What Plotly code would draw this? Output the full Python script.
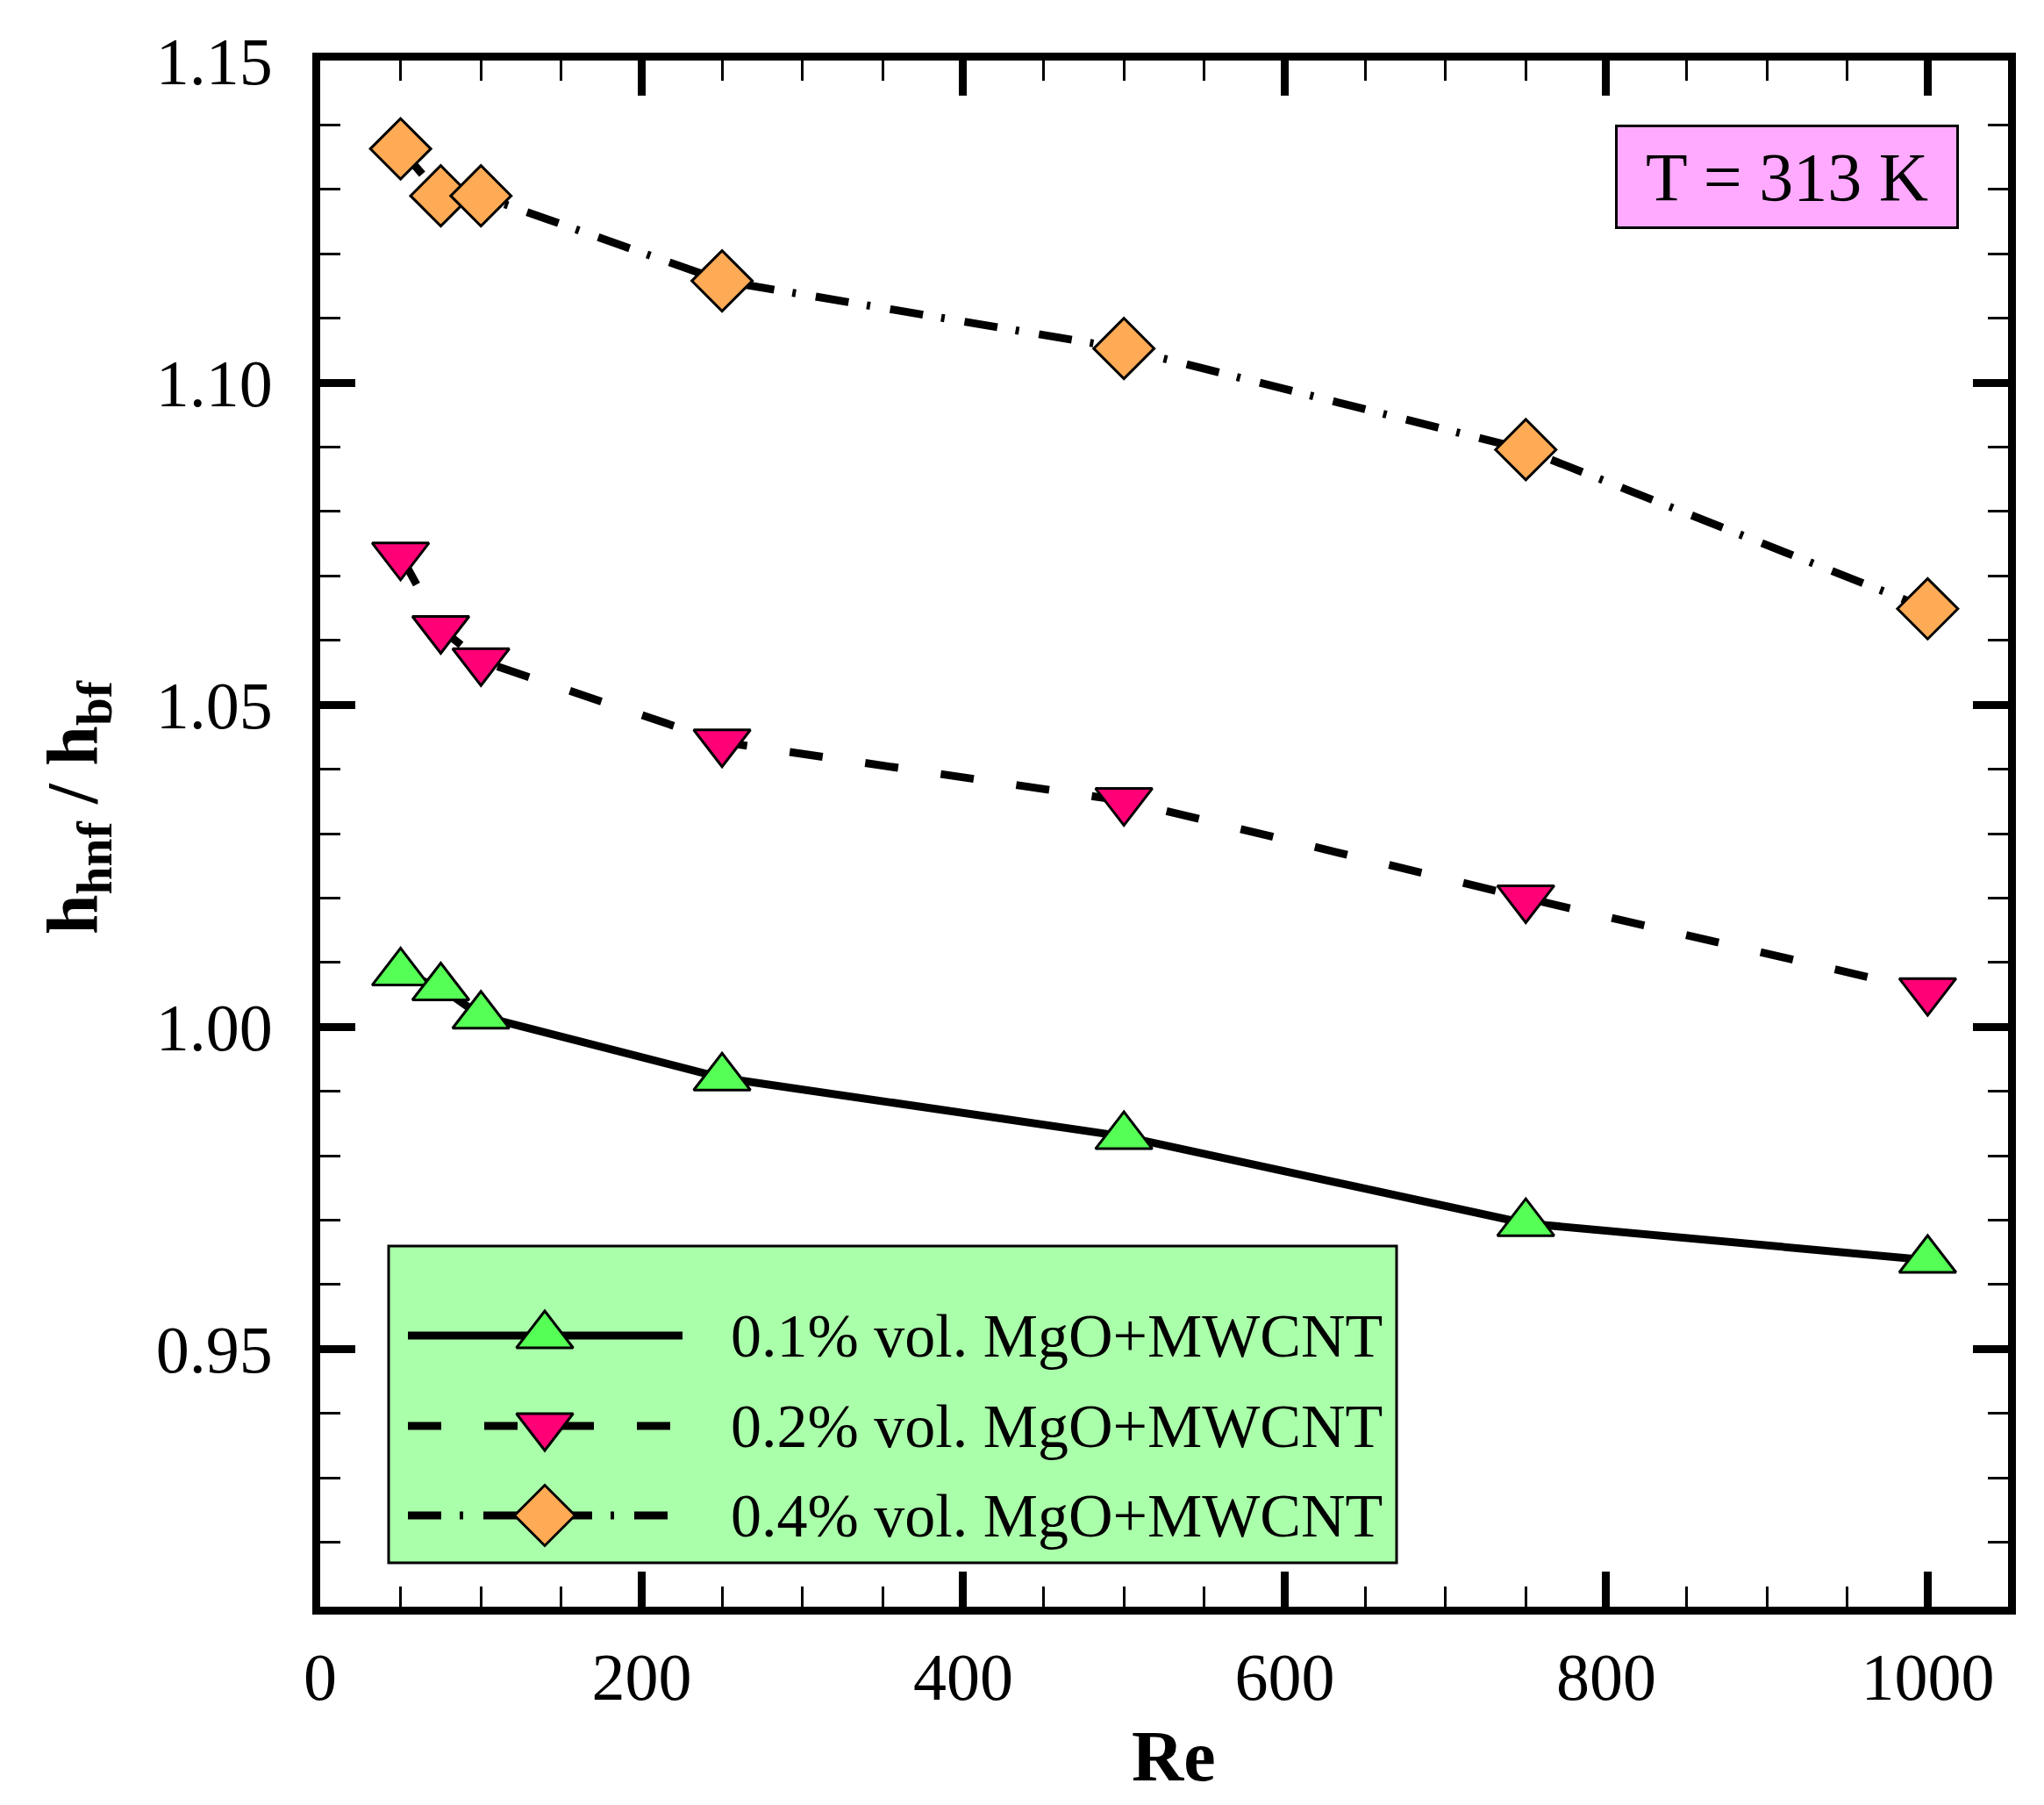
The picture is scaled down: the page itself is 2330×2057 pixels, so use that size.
import plotly.graph_objects as go

# ---------------- data ----------------
re_vals = [50, 75, 100, 250, 500, 750, 1000]
h_ratio_01 = [1.0084, 1.0061, 1.0017, 0.9921, 0.9830, 0.9695, 0.9638]
h_ratio_02 = [1.0732, 1.0618, 1.0568, 1.0442, 1.0351, 1.0200, 1.0056]
h_ratio_04 = [1.1363, 1.1290, 1.1290, 1.1158, 1.1053, 1.0896, 1.0649]
series_names = ["0.1% vol. MgO+MWCNT", "0.2% vol. MgO+MWCNT", "0.4% vol. MgO+MWCNT"]
x_tick_vals = [0, 200, 400, 600, 800, 1000]
y_tick_vals = [0.95, 1.00, 1.05, 1.10, 1.15]
annot_text = "T = 313 K"
x_title = "<b>Re</b>"
y_title = "<b>h<sub>hnf</sub> / h<sub>bf</sub></b>"

# ---------------- styles ----------------
FONT = "Liberation Serif, Times New Roman, serif"
W, H = 2330, 2057
ML, MR, MT, MB = 357, 49, 61, 234

styles = [
    dict(symbol="triangle-up", color="#55FF55", dash="solid", size=56),
    dict(symbol="triangle-down", color="#FF0077", dash="38px,49px", size=56),
    dict(symbol="diamond", color="#FFAA55", dash="38px,21px,4px,23px", size=53),
]
series = [h_ratio_01, h_ratio_02, h_ratio_04]

fig = go.Figure()
for name, yv, st in zip(series_names, series, styles):
    fig.add_trace(go.Scatter(
        x=re_vals, y=yv, name=name, mode="lines+markers",
        line=dict(color="black", width=9, dash=st["dash"]),
        marker=dict(symbol=st["symbol"], size=st["size"], color=st["color"],
                    line=dict(color="black", width=3)),
        showlegend=False,
    ))

# ---------------- manual legend (own hidden axes) ----------------
leg_px = dict(x0=435, x1=1584, y0=1412, y1=1773)  # pixel box
pw, ph = W - ML - MR, H - MT - MB
lx0 = (leg_px["x0"] - ML) / pw
lx1 = (leg_px["x1"] - ML) / pw
ly1 = (H - MB - leg_px["y0"]) / ph
ly0 = (H - MB - leg_px["y1"]) / ph
lw = leg_px["x1"] - leg_px["x0"]
lh = leg_px["y1"] - leg_px["y0"]
row_y = [259, 156, 54]
for name, st, ry in zip(series_names, styles, row_y):
    fig.add_trace(go.Scatter(
        x=[22, 335], y=[ry, ry], mode="lines", xaxis="x2", yaxis="y2",
        line=dict(color="black", width=9, dash=st["dash"]), showlegend=False,
        hoverinfo="skip"))
    fig.add_trace(go.Scatter(
        x=[178], y=[ry], mode="markers", xaxis="x2", yaxis="y2",
        marker=dict(symbol=st["symbol"], size=st["size"], color=st["color"],
                    line=dict(color="black", width=3)),
        showlegend=False, hoverinfo="skip"))
    fig.add_annotation(x=388, y=ry, xref="x2", yref="y2", text=name,
                       showarrow=False, xanchor="left", yanchor="middle",
                       font=dict(family=FONT, size=70, color="black"))

fig.add_shape(type="rect", xref="paper", yref="paper",
              x0=lx0, x1=lx1, y0=ly0, y1=ly1,
              fillcolor="#AAFFAA", line=dict(color="black", width=3),
              layer="below")

# T = 313 K box
fig.add_annotation(x=(2028.5 - ML) / pw, y=(H - MB - 194) / ph, xref="paper", yref="paper",
                   text=annot_text, showarrow=False, xanchor="center", yanchor="middle",
                   font=dict(family=FONT, size=78, color="black"),
                   bgcolor="#FFAAFF", bordercolor="black", borderwidth=3,
                   borderpad=0, width=386, height=113)

# axis titles
fig.add_annotation(x=(1330 - ML) / pw, y=(H - MB - 1994) / ph, xref="paper", yref="paper",
                   text=x_title, showarrow=False, xanchor="center", yanchor="middle",
                   font=dict(family=FONT, size=82, color="black"))
fig.add_annotation(x=(80 - ML) / pw, y=(H - MB - 912) / ph, xref="paper", yref="paper",
                   text=y_title, showarrow=False, xanchor="center", yanchor="middle",
                   textangle=-90, font=dict(family=FONT, size=82, color="black"))

axis_common = dict(
    showline=True, linewidth=9, linecolor="black", mirror="ticks",
    ticks="inside", ticklen=40, tickwidth=9, tickcolor="black",
    showgrid=False, zeroline=False,
    tickfont=dict(family=FONT, size=76, color="black"),
)

fig.update_layout(
    width=W, height=H,
    margin=dict(l=ML, r=MR, t=MT, b=MB, autoexpand=False),
    paper_bgcolor="white", plot_bgcolor="rgba(0,0,0,0)",
    showlegend=False,
    xaxis=dict(range=[0, 1050], tickvals=x_tick_vals, ticktext=[str(v) for v in x_tick_vals],
               minor=dict(dtick=50, tick0=0, ticks="inside", ticklen=23, tickwidth=3,
                          tickcolor="black"),
               ticklabelstandoff=6,
               **axis_common),
    yaxis=dict(range=[0.91, 1.15], tickvals=y_tick_vals,
               ticktext=["%.2f" % v for v in y_tick_vals],
               minor=dict(dtick=0.01, tick0=0.91, ticks="inside", ticklen=23, tickwidth=3,
                          tickcolor="black"),
               ticklabelstandoff=30,
               **axis_common),
    xaxis2=dict(domain=[lx0, lx1], range=[0, lw], anchor="y2", visible=False,
                fixedrange=True),
    yaxis2=dict(domain=[ly0, ly1], range=[0, lh], anchor="x2", visible=False,
                fixedrange=True),
)

fig.write_html("out.html")
